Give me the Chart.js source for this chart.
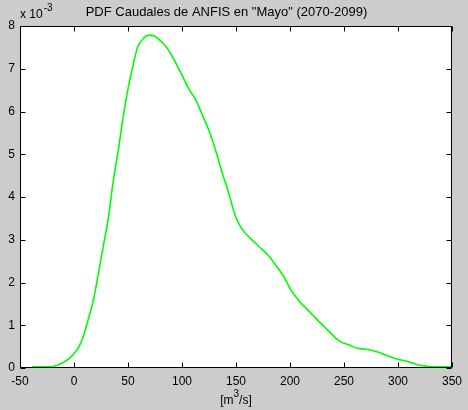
<!DOCTYPE html>
<html><head><meta charset="utf-8">
<script src="https://cdn.jsdelivr.net/npm/chart.js@4/dist/chart.umd.min.js"></script>
<style>html,body{margin:0;padding:0;background:#cccccc;overflow:hidden}</style>
</head><body>
<canvas id="c" width="468" height="410" style="display:block;width:468px;height:410px"></canvas>
<script>
// Caudal [m3/s]
const flowX = [-39,-30,-21,-15,-10,-4,0,4,8.5,13,18,22,27,32,36,41,45.5,50,55,59,64,68.5,73,78,85.5,92,100,107,113,119,125.5,132,138,141,144.5,148.7,151.8,156.4,162.6,171.8,180.4,185.5,193.5,201,209,216.5,224,232,239.5,247,255,262.5,270.5,278,286,293.5,301,309,316.5,324,332,349];
// PDF (x 10^-3)
const pdfY = [0.03,0.03,0.03,0.07,0.13,0.23,0.34,0.47,0.73,1.12,1.59,2.13,2.83,3.54,4.31,5.09,5.87,6.53,7.12,7.51,7.70,7.78,7.78,7.70,7.51,7.24,6.85,6.50,6.26,5.91,5.52,5.02,4.50,4.28,3.98,3.61,3.42,3.22,3.05,2.83,2.62,2.45,2.17,1.82,1.55,1.36,1.16,0.96,0.77,0.61,0.54,0.46,0.44,0.40,0.33,0.26,0.20,0.15,0.09,0.05,0.03,0.03];
const xTickVals = [-50,0,50,100,150,200,250,300,350];
const yTickVals = [0,1,2,3,4,5,6,7,8];
const titleText = 'PDF Caudales de ANFIS en "Mayo" (2070-2099)';
const yExpBase = 'x 10';
const yExpSup = '-3';
const xLabelParts = ['[m', '3', '/s]'];

const FONT = '"Liberation Sans", Arial, Helvetica, sans-serif';
const points = flowX.map((x, i) => ({x: x, y: pdfY[i]}));

const matlabPlugin = {
  id: 'matlab',
  beforeDraw(chart) {
    const ctx = chart.ctx, a = chart.chartArea;
    ctx.save();
    ctx.fillStyle = '#cccccc';
    ctx.fillRect(0, 0, chart.width, chart.height);
    ctx.fillStyle = '#ffffff';
    ctx.fillRect(a.left, a.top, a.right - a.left, a.bottom - a.top);
    ctx.restore();
  },
  afterDraw(chart) {
    const ctx = chart.ctx, a = chart.chartArea;
    const xs = chart.scales.x, ys = chart.scales.y;
    ctx.save();
    ctx.strokeStyle = '#000';
    ctx.lineWidth = 1;
    const L = Math.round(a.left) + 0.5, R = Math.round(a.right) - 0.5;
    const T = Math.round(a.top) + 0.5, B = Math.round(a.bottom) - 0.5;
    ctx.beginPath();
    ctx.rect(L, T, R - L, B - T);
    const tl = 5;
    xs.ticks.forEach(t => {
      const px = Math.round(xs.getPixelForValue(t.value)) + 0.5;
      ctx.moveTo(px, B); ctx.lineTo(px, B - tl);
      ctx.moveTo(px, T); ctx.lineTo(px, T + tl);
    });
    ys.ticks.forEach(t => {
      const py = Math.round(ys.getPixelForValue(t.value)) + 0.5;
      ctx.moveTo(L, py); ctx.lineTo(L + tl, py);
      ctx.moveTo(R, py); ctx.lineTo(R - tl, py);
    });
    ctx.stroke();
    // exponent label
    ctx.fillStyle = '#000';
    ctx.textBaseline = 'middle';
    ctx.textAlign = 'left';
    ctx.font = '12px ' + FONT;
    ctx.fillText(yExpBase, a.left, 15);
    const w = ctx.measureText(yExpBase).width;
    ctx.font = '10px ' + FONT;
    ctx.fillText(yExpSup, a.left + w + 1, 8);
    // x label
    ctx.font = '12px ' + FONT;
    const w0 = ctx.measureText(xLabelParts[0]).width;
    const w2 = ctx.measureText(xLabelParts[2]).width;
    ctx.font = '10px ' + FONT;
    const w1 = ctx.measureText(xLabelParts[1]).width;
    const total = w0 + w1 + w2;
    let x0 = (a.left + a.right) / 2 - total / 2;
    ctx.font = '12px ' + FONT;
    ctx.fillText(xLabelParts[0], x0, 401);
    ctx.font = '10px ' + FONT;
    ctx.fillText(xLabelParts[1], x0 + w0, 394);
    ctx.font = '12px ' + FONT;
    ctx.fillText(xLabelParts[2], x0 + w0 + w1, 401);
    ctx.restore();
  }
};

new Chart(document.getElementById('c'), {
  type: 'line',
  data: {
    datasets: [{
      data: points,
      borderColor: '#00ff00',
      borderWidth: 1.6,
      pointRadius: 0,
      fill: false,
      cubicInterpolationMode: 'monotone'
    }]
  },
  options: {
    responsive: false,
    animation: false,
    devicePixelRatio: 1,
    layout: { padding: { left: 0, right: 15, top: 0, bottom: 0 } },
    plugins: {
      legend: { display: false },
      tooltip: { enabled: false },
      title: {
        display: true,
        text: titleText,
        color: '#000',
        font: { family: FONT, size: 13, weight: 'normal', lineHeight: 1.2 },
        padding: { top: 5, bottom: 5.4 }
      }
    },
    scales: {
      x: {
        type: 'linear',
        min: -50, max: 350,
        afterBuildTicks(s) { s.ticks = xTickVals.map(v => ({value: v})); },
        afterFit(s) { s.height = 42; },
        grid: { display: false, drawTicks: false },
        border: { display: false },
        ticks: { color: '#000', font: { family: FONT, size: 12 }, padding: 6, autoSkip: false, maxRotation: 0 }
      },
      y: {
        type: 'linear',
        min: 0, max: 8,
        afterBuildTicks(s) { s.ticks = yTickVals.map(v => ({value: v})); },
        afterFit(s) { s.width = 20; },
        grid: { display: false, drawTicks: false },
        border: { display: false },
        ticks: { color: '#000', font: { family: FONT, size: 12 }, padding: 5, autoSkip: false }
      }
    }
  },
  plugins: [matlabPlugin]
});
</script>
</body></html>
